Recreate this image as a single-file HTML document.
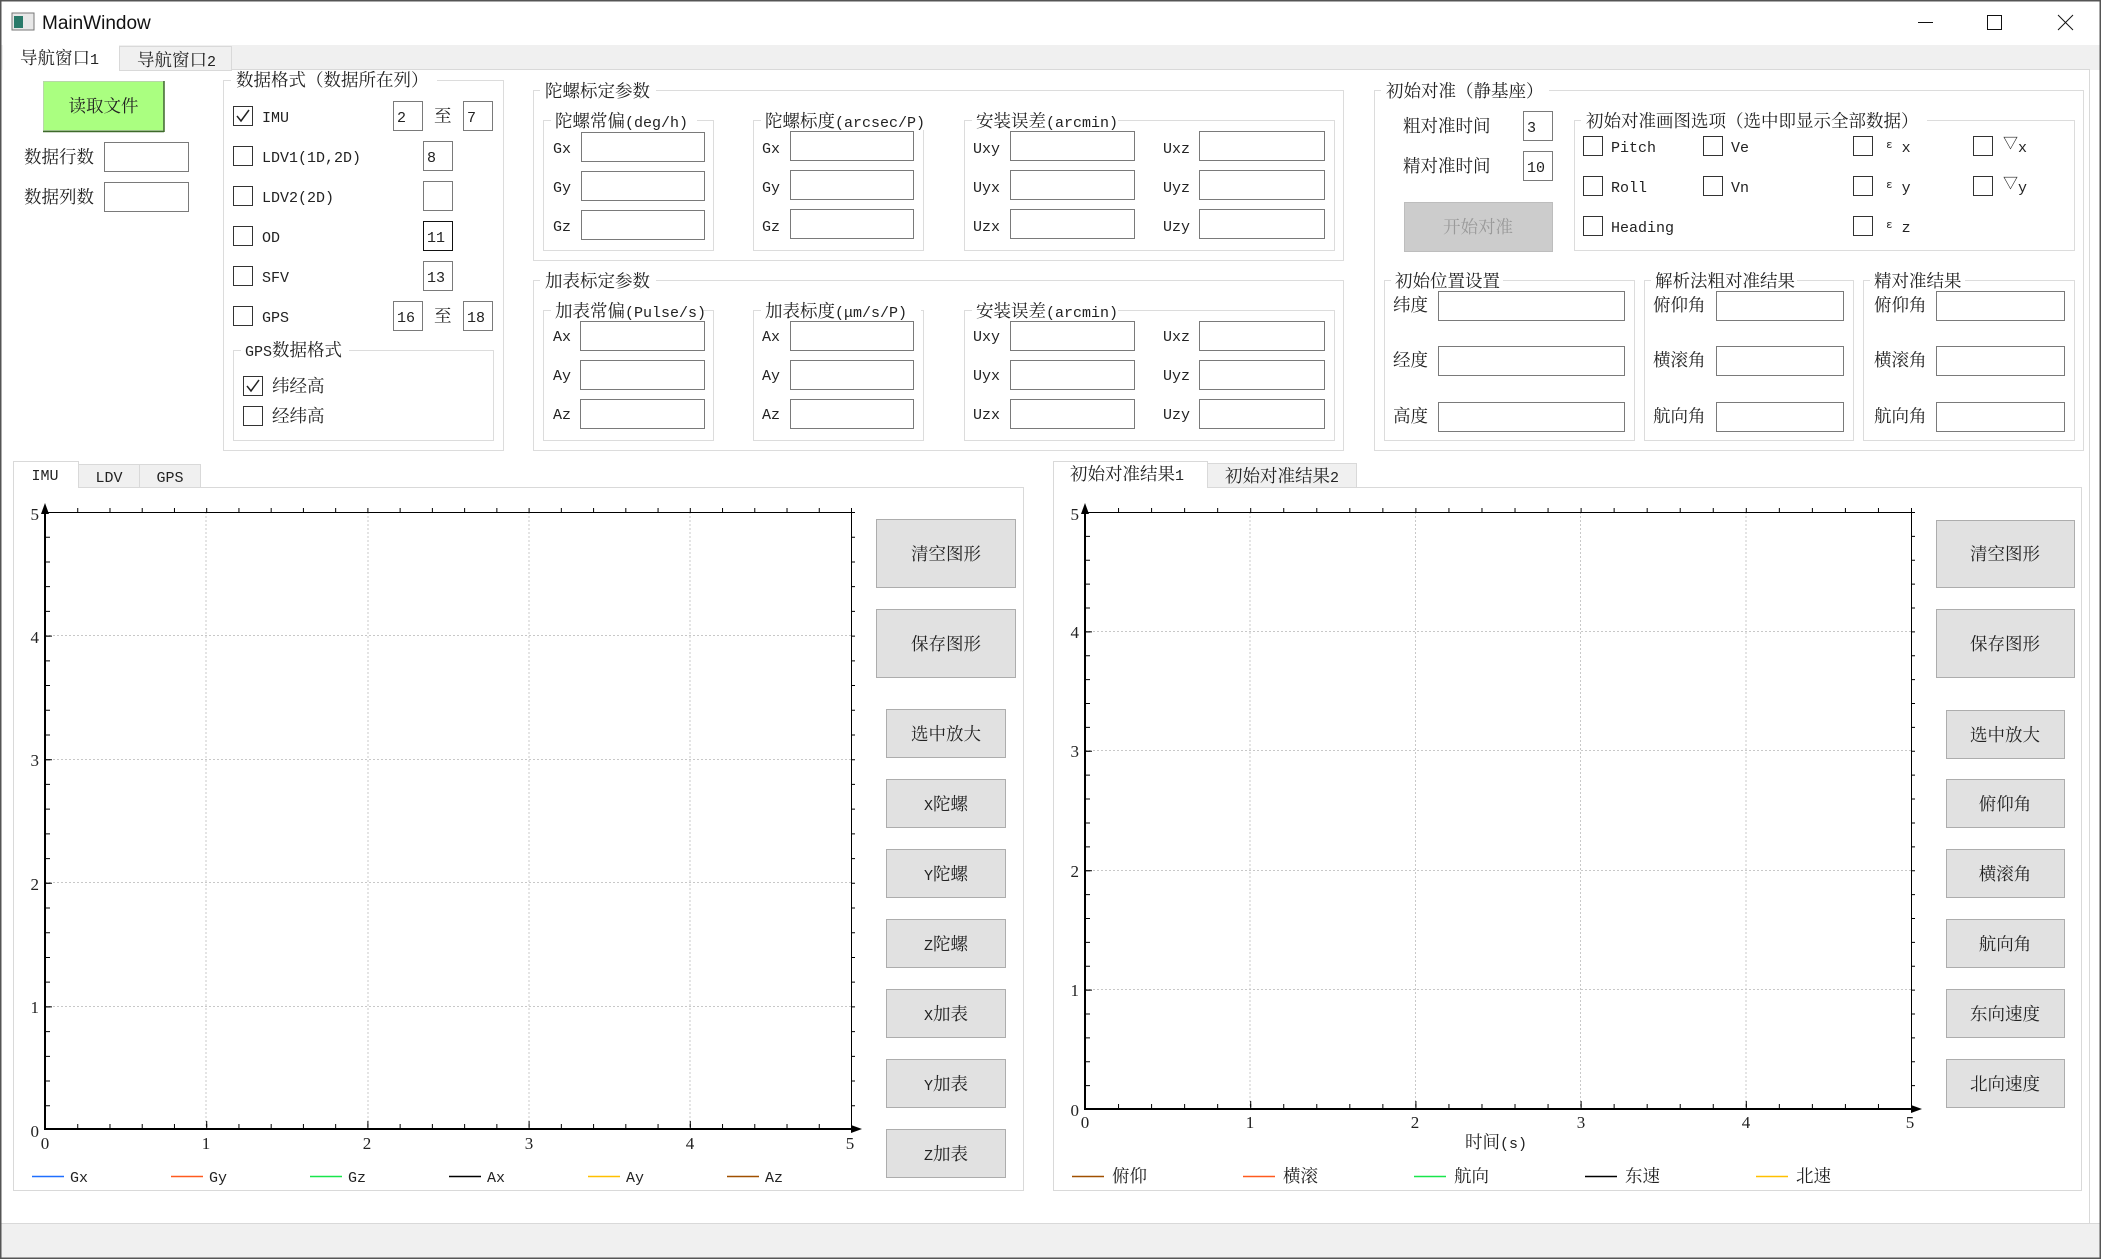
<!DOCTYPE html>
<html><head><meta charset="utf-8"><style>
html,body{margin:0;padding:0;background:#fff;}
svg{display:block}
.c{font-family:"Liberation Serif","Noto Serif CJK SC",serif;font-size:17.5px;fill:#222}
.l{font-family:"Liberation Mono","Noto Serif CJK SC",monospace;font-size:15px;fill:#222}
.gb{fill:none;stroke:#dcdcdc;stroke-width:1}
.in{fill:#fff;stroke:#7a7a7a;stroke-width:1}
.cb{fill:#fff;stroke:#333;stroke-width:1}
.bt{fill:#e1e1e1;stroke:#adadad;stroke-width:1}
.wb{fill:#fff}
.grid{stroke:#c8c8c8;stroke-width:1;stroke-dasharray:2 2}
.ax{font-family:"Liberation Serif",serif;font-size:17px;fill:#222}
</style></head><body>
<svg width="2101" height="1259" viewBox="0 0 2101 1259" xmlns="http://www.w3.org/2000/svg">
<rect x="0" y="0" width="2101" height="1259" fill="#fff"/>
<!-- title bar -->
<rect x="12" y="13" width="22" height="17" fill="#e8e8e8" stroke="#777"/>
<rect x="14" y="16" width="9" height="12" fill="#2a7a6a"/>
<text x="42" y="29" style="font-family:'Liberation Sans',sans-serif;font-size:19px;fill:#111">MainWindow</text>
<line x1="1918" y1="22.5" x2="1933" y2="22.5" stroke="#111"/>
<rect x="1987.5" y="15.5" width="14" height="14" fill="none" stroke="#111"/>
<line x1="2058" y1="15" x2="2073" y2="30" stroke="#111"/>
<line x1="2073" y1="15" x2="2058" y2="30" stroke="#111"/>
<!-- tab bar -->
<rect x="0" y="45" width="2101" height="25" fill="#f0f0f0"/>
<rect x="3" y="45" width="116" height="26" fill="#fff"/>
<rect x="119.5" y="46.5" width="112" height="24" fill="#f0f0f0" stroke="#d9d9d9"/>
<line x1="232" y1="69.5" x2="2089" y2="69.5" stroke="#d9d9d9"/>
<line x1="2089.5" y1="69" x2="2089.5" y2="1223" stroke="#d9d9d9"/>
<text x="20" y="64" class="c">导航窗口<tspan class="l">1</tspan></text>
<text x="137" y="66" class="c">导航窗口<tspan class="l">2</tspan></text>

<!-- read file -->
<rect x="43.5" y="81.5" width="120" height="49" fill="#aaff80" stroke="#b8d8a8"/>
<line x1="164" y1="81" x2="164" y2="132" stroke="#3d6a2a" stroke-width="1.5"/>
<line x1="43" y1="131.5" x2="164" y2="131.5" stroke="#3d6a2a" stroke-width="1.5"/>
<text x="103.5" y="112" class="c" text-anchor="middle">读取文件</text>
<text x="24" y="163" class="c">数据行数</text>
<rect x="104.5" y="142.5" width="84" height="29" class="in"/>
<text x="24" y="203" class="c">数据列数</text>
<rect x="104.5" y="182.5" width="84" height="29" class="in"/>

<!-- data format group -->
<rect x="223.5" y="80.5" width="280" height="370" class="gb"/>
<rect x="231" y="72" width="206" height="18" class="wb"/>
<text x="236" y="86" class="c">数据格式（数据所在列）</text>
<rect x="233.5" y="106.5" width="19" height="19" class="cb"/>
<path d="M237 116 L241 121 L249 110" fill="none" stroke="#222" stroke-width="1.5"/>
<text x="262" y="122" class="l">IMU</text>
<rect x="233.5" y="146.5" width="19" height="19" class="cb"/><text x="262" y="162" class="l">LDV1(1D,2D)</text>
<rect x="233.5" y="186.5" width="19" height="19" class="cb"/><text x="262" y="202" class="l">LDV2(2D)</text>
<rect x="233.5" y="226.5" width="19" height="19" class="cb"/><text x="262" y="242" class="l">OD</text>
<rect x="233.5" y="266.5" width="19" height="19" class="cb"/><text x="262" y="282" class="l">SFV</text>
<rect x="233.5" y="306.5" width="19" height="19" class="cb"/><text x="262" y="322" class="l">GPS</text>
<rect x="393.5" y="101.5" width="29" height="29" class="in"/><text x="397" y="122" class="l">2</text>
<text x="434" y="122" class="c">至</text>
<rect x="463.5" y="101.5" width="29" height="29" class="in"/><text x="467" y="122" class="l">7</text>
<rect x="423.5" y="141.5" width="29" height="29" class="in"/><text x="427" y="162" class="l">8</text>
<rect x="423.5" y="181.5" width="29" height="29" class="in"/>
<rect x="423.5" y="221.5" width="29" height="29" fill="#fff" stroke="#111"/><text x="427" y="242" class="l">11</text>
<rect x="423.5" y="261.5" width="29" height="29" class="in"/><text x="427" y="282" class="l">13</text>
<rect x="393.5" y="301.5" width="29" height="29" class="in"/><text x="397" y="322" class="l">16</text>
<text x="434" y="322" class="c">至</text>
<rect x="463.5" y="301.5" width="29" height="29" class="in"/><text x="467" y="322" class="l">18</text>
<rect x="233.5" y="350.5" width="260" height="90" class="gb"/>
<rect x="241" y="342" width="108" height="18" class="wb"/>
<text x="245" y="356" class="c"><tspan class="l">GPS</tspan>数据格式</text>
<rect x="243.5" y="376.5" width="19" height="19" class="cb"/>
<path d="M247 386 L251 391 L259 380" fill="none" stroke="#222" stroke-width="1.5"/>
<text x="272" y="392" class="c">纬经高</text>
<rect x="243.5" y="406.5" width="19" height="19" class="cb"/>
<text x="272" y="422" class="c">经纬高</text>

<!-- gyro group -->
<rect x="533.5" y="90.5" width="810" height="170" class="gb"/>
<rect x="540" y="82" width="116" height="18" class="wb"/>
<text x="545" y="97" class="c">陀螺标定参数</text>
<rect x="543.5" y="120.5" width="170" height="130" class="gb"/>
<rect x="551" y="112" width="146" height="18" class="wb"/>
<text x="555" y="127" class="c">陀螺常偏<tspan class="l">(deg/h)</tspan></text>
<rect x="753.5" y="120.5" width="170" height="130" class="gb"/>
<rect x="761" y="112" width="164" height="18" class="wb"/>
<text x="765" y="127" class="c">陀螺标度<tspan class="l">(arcsec/P)</tspan></text>
<rect x="964.5" y="120.5" width="370" height="130" class="gb"/>
<rect x="972" y="112" width="146" height="18" class="wb"/>
<text x="976" y="127" class="c">安装误差<tspan class="l">(arcmin)</tspan></text>
<g class="l">
<text x="553" y="153">Gx</text><text x="553" y="192">Gy</text><text x="553" y="231">Gz</text>
<text x="762" y="153">Gx</text><text x="762" y="192">Gy</text><text x="762" y="231">Gz</text>
<text x="973" y="153">Uxy</text><text x="973" y="192">Uyx</text><text x="973" y="231">Uzx</text>
<text x="1163" y="153">Uxz</text><text x="1163" y="192">Uyz</text><text x="1163" y="231">Uzy</text>
</g>
<g>
<rect x="581.5" y="132.5" width="123" height="29" class="in"/><rect x="581.5" y="171.5" width="123" height="29" class="in"/><rect x="581.5" y="210.5" width="123" height="29" class="in"/>
<rect x="790.5" y="131.5" width="123" height="29" class="in"/><rect x="790.5" y="170.5" width="123" height="29" class="in"/><rect x="790.5" y="209.5" width="123" height="29" class="in"/>
<rect x="1010.5" y="131.5" width="124" height="29" class="in"/><rect x="1010.5" y="170.5" width="124" height="29" class="in"/><rect x="1010.5" y="209.5" width="124" height="29" class="in"/>
<rect x="1199.5" y="131.5" width="125" height="29" class="in"/><rect x="1199.5" y="170.5" width="125" height="29" class="in"/><rect x="1199.5" y="209.5" width="125" height="29" class="in"/>
</g>

<!-- accel group -->
<rect x="533.5" y="280.5" width="810" height="170" class="gb"/>
<rect x="540" y="272" width="116" height="18" class="wb"/>
<text x="545" y="287" class="c">加表标定参数</text>
<rect x="543.5" y="310.5" width="170" height="130" class="gb"/>
<rect x="551" y="302" width="152" height="18" class="wb"/>
<text x="555" y="317" class="c">加表常偏<tspan class="l">(Pulse/s)</tspan></text>
<rect x="753.5" y="310.5" width="170" height="130" class="gb"/>
<rect x="761" y="302" width="160" height="18" class="wb"/>
<text x="765" y="317" class="c">加表标度<tspan class="l">(μm/s/P)</tspan></text>
<rect x="964.5" y="310.5" width="370" height="130" class="gb"/>
<rect x="972" y="302" width="146" height="18" class="wb"/>
<text x="976" y="317" class="c">安装误差<tspan class="l">(arcmin)</tspan></text>
<g class="l">
<text x="553" y="341">Ax</text><text x="553" y="380">Ay</text><text x="553" y="419">Az</text>
<text x="762" y="341">Ax</text><text x="762" y="380">Ay</text><text x="762" y="419">Az</text>
<text x="973" y="341">Uxy</text><text x="973" y="380">Uyx</text><text x="973" y="419">Uzx</text>
<text x="1163" y="341">Uxz</text><text x="1163" y="380">Uyz</text><text x="1163" y="419">Uzy</text>
</g>
<g>
<rect x="580.5" y="321.5" width="124" height="29" class="in"/><rect x="580.5" y="360.5" width="124" height="29" class="in"/><rect x="580.5" y="399.5" width="124" height="29" class="in"/>
<rect x="790.5" y="321.5" width="123" height="29" class="in"/><rect x="790.5" y="360.5" width="123" height="29" class="in"/><rect x="790.5" y="399.5" width="123" height="29" class="in"/>
<rect x="1010.5" y="321.5" width="124" height="29" class="in"/><rect x="1010.5" y="360.5" width="124" height="29" class="in"/><rect x="1010.5" y="399.5" width="124" height="29" class="in"/>
<rect x="1199.5" y="321.5" width="125" height="29" class="in"/><rect x="1199.5" y="360.5" width="125" height="29" class="in"/><rect x="1199.5" y="399.5" width="125" height="29" class="in"/>
</g>

<!-- init alignment group -->
<rect x="1374.5" y="90.5" width="709" height="360" class="gb"/>
<rect x="1381" y="82" width="168" height="18" class="wb"/>
<text x="1386" y="97" class="c">初始对准（静基座）</text>
<text x="1403" y="132" class="c">粗对准时间</text>
<rect x="1523.5" y="111.5" width="29" height="29" class="in"/><text x="1527" y="132" class="l">3</text>
<text x="1403" y="172" class="c">精对准时间</text>
<rect x="1523.5" y="151.5" width="29" height="29" class="in"/><text x="1527" y="172" class="l">10</text>
<rect x="1404.5" y="202.5" width="148" height="49" fill="#cccccc" stroke="#bdbdbd"/>
<text x="1478" y="233" class="c" text-anchor="middle" style="fill:#9a9a9a">开始对准</text>

<rect x="1574.5" y="120.5" width="500" height="130" class="gb"/>
<rect x="1581" y="112" width="346" height="18" class="wb"/>
<text x="1586" y="127" class="c">初始对准画图选项（选中即显示全部数据）</text>
<g>
<rect x="1583.5" y="136.5" width="19" height="19" class="cb"/><text x="1611" y="152" class="l">Pitch</text>
<rect x="1703.5" y="136.5" width="19" height="19" class="cb"/><text x="1731" y="152" class="l">Ve</text>
<rect x="1853.5" y="136.5" width="19" height="19" class="cb"/><text x="1886" y="152" class="l"><tspan font-size="11" dy="-4">ε</tspan><tspan dy="4"> x</tspan></text>
<rect x="1973.5" y="136.5" width="19" height="19" class="cb"/><text x="2003" y="152" class="l"><tspan dy="-4">▽</tspan><tspan dy="4">x</tspan></text>
<rect x="1583.5" y="176.5" width="19" height="19" class="cb"/><text x="1611" y="192" class="l">Roll</text>
<rect x="1703.5" y="176.5" width="19" height="19" class="cb"/><text x="1731" y="192" class="l">Vn</text>
<rect x="1853.5" y="176.5" width="19" height="19" class="cb"/><text x="1886" y="192" class="l"><tspan font-size="11" dy="-4">ε</tspan><tspan dy="4"> y</tspan></text>
<rect x="1973.5" y="176.5" width="19" height="19" class="cb"/><text x="2003" y="192" class="l"><tspan dy="-4">▽</tspan><tspan dy="4">y</tspan></text>
<rect x="1583.5" y="216.5" width="19" height="19" class="cb"/><text x="1611" y="232" class="l">Heading</text>
<rect x="1853.5" y="216.5" width="19" height="19" class="cb"/><text x="1886" y="232" class="l"><tspan font-size="11" dy="-4">ε</tspan><tspan dy="4"> z</tspan></text>
</g>

<rect x="1384.5" y="280.5" width="250" height="160" class="gb"/>
<rect x="1391" y="272" width="112" height="18" class="wb"/>
<text x="1395" y="287" class="c">初始位置设置</text>
<text x="1393" y="311" class="c">纬度</text><rect x="1438.5" y="291.5" width="186" height="29" class="in"/>
<text x="1393" y="366" class="c">经度</text><rect x="1438.5" y="346.5" width="186" height="29" class="in"/>
<text x="1393" y="422" class="c">高度</text><rect x="1438.5" y="402.5" width="186" height="29" class="in"/>

<rect x="1644.5" y="280.5" width="209" height="160" class="gb"/>
<rect x="1651" y="272" width="146" height="18" class="wb"/>
<text x="1655" y="287" class="c">解析法粗对准结果</text>
<text x="1653" y="311" class="c">俯仰角</text><rect x="1716.5" y="291.5" width="127" height="29" class="in"/>
<text x="1653" y="366" class="c">横滚角</text><rect x="1716.5" y="346.5" width="127" height="29" class="in"/>
<text x="1653" y="422" class="c">航向角</text><rect x="1716.5" y="402.5" width="127" height="29" class="in"/>

<rect x="1863.5" y="280.5" width="211" height="160" class="gb"/>
<rect x="1870" y="272" width="95" height="18" class="wb"/>
<text x="1874" y="287" class="c">精对准结果</text>
<text x="1874" y="311" class="c">俯仰角</text><rect x="1936.5" y="291.5" width="128" height="29" class="in"/>
<text x="1874" y="366" class="c">横滚角</text><rect x="1936.5" y="346.5" width="128" height="29" class="in"/>
<text x="1874" y="422" class="c">航向角</text><rect x="1936.5" y="402.5" width="128" height="29" class="in"/>

<!-- LEFT PLOT PANE -->
<rect x="13.5" y="487.5" width="1010" height="703" fill="#fff" stroke="#d9d9d9"/>
<rect x="78.5" y="464.5" width="61" height="23" fill="#f0f0f0" stroke="#d9d9d9"/>
<rect x="139.5" y="464.5" width="61" height="23" fill="#f0f0f0" stroke="#d9d9d9"/>
<path d="M13.5 488 V461.5 H78.5 V488" fill="#fff" stroke="#d9d9d9"/>
<rect x="14" y="486" width="64" height="3" fill="#fff"/>
<text x="45" y="480" class="l" text-anchor="middle">IMU</text>
<text x="109" y="482" class="l" text-anchor="middle">LDV</text>
<text x="170" y="482" class="l" text-anchor="middle">GPS</text>
<g>
<line x1="206" y1="512" x2="206" y2="1129" class="grid"/><line x1="368" y1="512" x2="368" y2="1129" class="grid"/>
<line x1="529" y1="512" x2="529" y2="1129" class="grid"/><line x1="690" y1="512" x2="690" y2="1129" class="grid"/>
<line x1="45" y1="635.5" x2="851" y2="635.5" class="grid"/><line x1="45" y1="759.5" x2="851" y2="759.5" class="grid"/>
<line x1="45" y1="882.5" x2="851" y2="882.5" class="grid"/><line x1="45" y1="1006.5" x2="851" y2="1006.5" class="grid"/>
<line x1="45" y1="512.5" x2="851" y2="512.5" stroke="#000"/>
<line x1="851.5" y1="512" x2="851.5" y2="1129" stroke="#000"/>
<line x1="45" y1="1129" x2="858" y2="1129" stroke="#000" stroke-width="2"/>
<line x1="45" y1="1130" x2="45" y2="510" stroke="#000" stroke-width="2"/>
<!-- ticks -->
<line x1="45" y1="1126" x2="852" y2="1126" stroke="#000" stroke-width="4" stroke-dasharray="1 31.24"/>
<line x1="45" y1="1124" x2="852" y2="1124" stroke="#000" stroke-width="6" stroke-dasharray="1 160.2"/>
<line x1="45" y1="510" x2="852" y2="510" stroke="#000" stroke-width="4" stroke-dasharray="1 31.24"/>
<line x1="48" y1="512" x2="48" y2="1130" stroke="#000" stroke-width="4" stroke-dasharray="1 23.72"/>
<line x1="49" y1="512" x2="49" y2="1130" stroke="#000" stroke-width="6" stroke-dasharray="1 122.6"/>
<line x1="853.5" y1="512" x2="853.5" y2="1130" stroke="#000" stroke-width="3" stroke-dasharray="1 23.72"/>
<path d="M45 503 L41 514 L49 514 Z" fill="#000"/>
<path d="M862 1129 L851 1125 L851 1133 Z" fill="#000"/>
</g>
<g class="ax" text-anchor="end">
<text x="39" y="520">5</text><text x="39" y="643">4</text><text x="39" y="766">3</text><text x="39" y="890">2</text><text x="39" y="1013">1</text><text x="39" y="1137">0</text>
</g>
<g class="ax" text-anchor="middle">
<text x="45" y="1149">0</text><text x="206" y="1149">1</text><text x="367" y="1149">2</text><text x="529" y="1149">3</text><text x="690" y="1149">4</text><text x="850" y="1149">5</text>
</g>
<g class="l">
<line x1="32" y1="1176.5" x2="64" y2="1176.5" stroke="#1f6fff" stroke-width="1.5"/><text x="70" y="1182">Gx</text>
<line x1="171" y1="1176.5" x2="203" y2="1176.5" stroke="#ff5a1f" stroke-width="1.5"/><text x="209" y="1182">Gy</text>
<line x1="310" y1="1176.5" x2="342" y2="1176.5" stroke="#19e64b" stroke-width="1.5"/><text x="348" y="1182">Gz</text>
<line x1="449" y1="1176.5" x2="481" y2="1176.5" stroke="#000" stroke-width="1.5"/><text x="487" y="1182">Ax</text>
<line x1="588" y1="1176.5" x2="620" y2="1176.5" stroke="#ffc000" stroke-width="1.5"/><text x="626" y="1182">Ay</text>
<line x1="727" y1="1176.5" x2="759" y2="1176.5" stroke="#a05000" stroke-width="1.5"/><text x="765" y="1182">Az</text>
</g>
<g>
<rect x="876.5" y="519.5" width="139" height="68" class="bt"/><text x="946" y="560" class="c" text-anchor="middle">清空图形</text>
<rect x="876.5" y="609.5" width="139" height="68" class="bt"/><text x="946" y="650" class="c" text-anchor="middle">保存图形</text>
<rect x="886.5" y="709.5" width="119" height="48" class="bt"/><text x="946" y="740" class="c" text-anchor="middle">选中放大</text>
<rect x="886.5" y="779.5" width="119" height="48" class="bt"/><text x="946" y="810" class="c" text-anchor="middle"><tspan class="l">X</tspan>陀螺</text>
<rect x="886.5" y="849.5" width="119" height="48" class="bt"/><text x="946" y="880" class="c" text-anchor="middle"><tspan class="l">Y</tspan>陀螺</text>
<rect x="886.5" y="919.5" width="119" height="48" class="bt"/><text x="946" y="950" class="c" text-anchor="middle"><tspan class="l">Z</tspan>陀螺</text>
<rect x="886.5" y="989.5" width="119" height="48" class="bt"/><text x="946" y="1020" class="c" text-anchor="middle"><tspan class="l">X</tspan>加表</text>
<rect x="886.5" y="1059.5" width="119" height="48" class="bt"/><text x="946" y="1090" class="c" text-anchor="middle"><tspan class="l">Y</tspan>加表</text>
<rect x="886.5" y="1129.5" width="119" height="48" class="bt"/><text x="946" y="1160" class="c" text-anchor="middle"><tspan class="l">Z</tspan>加表</text>
</g>

<!-- RIGHT PLOT PANE -->
<rect x="1053.5" y="487.5" width="1028" height="703" fill="#fff" stroke="#d9d9d9"/>
<rect x="1207.5" y="463.5" width="149" height="24" fill="#f0f0f0" stroke="#d9d9d9"/>
<path d="M1053.5 488 V461.5 H1207.5 V488" fill="#fff" stroke="#d9d9d9"/>
<rect x="1054" y="486" width="153" height="3" fill="#fff"/>
<text x="1070" y="480" class="c">初始对准结果<tspan class="l">1</tspan></text>
<text x="1225" y="482" class="c">初始对准结果<tspan class="l">2</tspan></text>
<g>
<line x1="1250" y1="512" x2="1250" y2="1108" class="grid"/><line x1="1415.5" y1="512" x2="1415.5" y2="1108" class="grid"/>
<line x1="1580.5" y1="512" x2="1580.5" y2="1108" class="grid"/><line x1="1746" y1="512" x2="1746" y2="1108" class="grid"/>
<line x1="1085" y1="631.5" x2="1911" y2="631.5" class="grid"/><line x1="1085" y1="750.5" x2="1911" y2="750.5" class="grid"/>
<line x1="1085" y1="870.5" x2="1911" y2="870.5" class="grid"/><line x1="1085" y1="989.5" x2="1911" y2="989.5" class="grid"/>
<line x1="1085" y1="512.5" x2="1911" y2="512.5" stroke="#000"/>
<line x1="1911.5" y1="512" x2="1911.5" y2="1109" stroke="#000"/>
<line x1="1085" y1="1109" x2="1918" y2="1109" stroke="#000" stroke-width="2"/>
<line x1="1085" y1="1110" x2="1085" y2="510" stroke="#000" stroke-width="2"/>
<line x1="1085" y1="1106" x2="1912" y2="1106" stroke="#000" stroke-width="4" stroke-dasharray="1 32.04"/>
<line x1="1085" y1="1104" x2="1912" y2="1104" stroke="#000" stroke-width="6" stroke-dasharray="1 164.2"/>
<line x1="1085" y1="510" x2="1912" y2="510" stroke="#000" stroke-width="4" stroke-dasharray="1 32.04"/>
<line x1="1088" y1="512" x2="1088" y2="1110" stroke="#000" stroke-width="4" stroke-dasharray="1 22.88"/>
<line x1="1089" y1="512" x2="1089" y2="1110" stroke="#000" stroke-width="6" stroke-dasharray="1 118.4"/>
<line x1="1913.5" y1="512" x2="1913.5" y2="1110" stroke="#000" stroke-width="3" stroke-dasharray="1 22.88"/>
<path d="M1085 503 L1081 514 L1089 514 Z" fill="#000"/>
<path d="M1922 1109 L1911 1105 L1911 1113 Z" fill="#000"/>
</g>
<g class="ax" text-anchor="end">
<text x="1079" y="520">5</text><text x="1079" y="638">4</text><text x="1079" y="757">3</text><text x="1079" y="877">2</text><text x="1079" y="996">1</text><text x="1079" y="1116">0</text>
</g>
<g class="ax" text-anchor="middle">
<text x="1085" y="1128">0</text><text x="1250" y="1128">1</text><text x="1415" y="1128">2</text><text x="1581" y="1128">3</text><text x="1746" y="1128">4</text><text x="1910" y="1128">5</text>
</g>
<text x="1496" y="1148" class="c" text-anchor="middle">时间<tspan class="l">(s)</tspan></text>
<g class="c">
<line x1="1072" y1="1176.5" x2="1104" y2="1176.5" stroke="#a05000" stroke-width="1.5"/><text x="1112" y="1182">俯仰</text>
<line x1="1243" y1="1176.5" x2="1275" y2="1176.5" stroke="#ff5a1f" stroke-width="1.5"/><text x="1283" y="1182">横滚</text>
<line x1="1414" y1="1176.5" x2="1446" y2="1176.5" stroke="#19e64b" stroke-width="1.5"/><text x="1454" y="1182">航向</text>
<line x1="1585" y1="1176.5" x2="1617" y2="1176.5" stroke="#000" stroke-width="1.5"/><text x="1625" y="1182">东速</text>
<line x1="1756" y1="1176.5" x2="1788" y2="1176.5" stroke="#ffc000" stroke-width="1.5"/><text x="1796" y="1182">北速</text>
</g>
<g>
<rect x="1936.5" y="520.5" width="138" height="67" class="bt"/><text x="2005" y="560" class="c" text-anchor="middle">清空图形</text>
<rect x="1936.5" y="609.5" width="138" height="68" class="bt"/><text x="2005" y="650" class="c" text-anchor="middle">保存图形</text>
<rect x="1946.5" y="710.5" width="118" height="48" class="bt"/><text x="2005" y="741" class="c" text-anchor="middle">选中放大</text>
<rect x="1946.5" y="779.5" width="118" height="48" class="bt"/><text x="2005" y="810" class="c" text-anchor="middle">俯仰角</text>
<rect x="1946.5" y="849.5" width="118" height="48" class="bt"/><text x="2005" y="880" class="c" text-anchor="middle">横滚角</text>
<rect x="1946.5" y="919.5" width="118" height="48" class="bt"/><text x="2005" y="950" class="c" text-anchor="middle">航向角</text>
<rect x="1946.5" y="989.5" width="118" height="48" class="bt"/><text x="2005" y="1020" class="c" text-anchor="middle">东向速度</text>
<rect x="1946.5" y="1059.5" width="118" height="48" class="bt"/><text x="2005" y="1090" class="c" text-anchor="middle">北向速度</text>
</g>

<!-- status bar -->
<rect x="0" y="1223" width="2101" height="36" fill="#f0f0f0"/>
<line x1="0" y1="1223.5" x2="2101" y2="1223.5" stroke="#d9d9d9"/>
<!-- window border -->
<rect x="0.75" y="0.75" width="2099.5" height="1257.5" fill="none" stroke="#555" stroke-width="1.5"/>
</svg>
</body></html>
